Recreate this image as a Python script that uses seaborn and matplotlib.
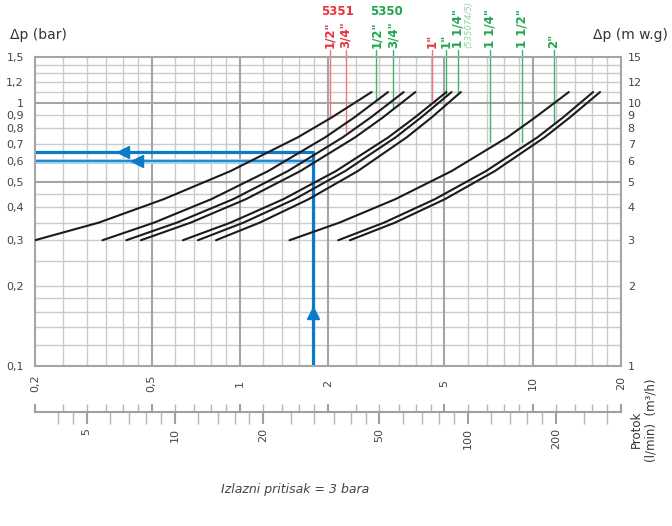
import numpy as np
import pandas as pd
import matplotlib
matplotlib.use("Agg")
import matplotlib.pyplot as plt
import seaborn as sns
from matplotlib.ticker import FixedLocator, NullFormatter, NullLocator

dp_levels = [0.3, 0.35, 0.43, 0.55, 0.74, 0.88, 1.1]

# flow (m3/h) of each curve at those levels, left to right
q_c1 = [0.2, 0.33, 0.55, 0.93, 1.58, 2.06, 2.82]
q_c2 = [0.34, 0.51, 0.80, 1.25, 1.96, 2.46, 3.21]
q_c3 = [0.41, 0.61, 0.95, 1.46, 2.25, 2.80, 3.63]
q_c4 = [0.46, 0.68, 1.05, 1.61, 2.48, 3.08, 3.98]
q_c5 = [0.64, 0.93, 1.41, 2.13, 3.22, 3.96, 5.08]
q_c6 = [0.72, 1.03, 1.54, 2.29, 3.41, 4.16, 5.29]
q_c7 = [0.83, 1.17, 1.72, 2.53, 3.72, 4.52, 5.69]
q_c8 = [1.48, 2.19, 3.40, 5.29, 8.21, 10.2, 13.3]
q_c9 = [2.17, 3.11, 4.64, 6.93, 10.4, 12.7, 16.1]
q_c10 = [2.38, 3.39, 5.02, 7.43, 11.0, 13.4, 17.0]
curves = [q_c1, q_c2, q_c3, q_c4, q_c5, q_c6, q_c7, q_c8, q_c9, q_c10]

# size markers (vertical coloured lines)
size_names = ['1/2"', '3/4"', '1/2"', '3/4"', '1"', '1"', '1 1/4"', '1 1/4"', '1 1/2"', '2"']
size_series = ['5351', '5351', '5350', '5350', '5351', '5350', '5350', '5350', '5350', '5350']
size_flow = [2.03, 2.30, 2.93, 3.34, 4.55, 5.08, 5.57, 7.18, 9.17, 11.8]
size_dp_end = [0.885, 0.776, 1.03, 0.953, 1.03, 1.07, 1.1, 0.711, 0.71, 0.84]

# example reading (blue)
q_sel = 1.78
dp_sel = 0.65
dp_sel2 = 0.6

# ticks / grid
y_ticks = [0.1, 0.2, 0.3, 0.4, 0.5, 0.6, 0.7, 0.8, 0.9, 1, 1.2, 1.5]
y_labels = ['0,1', '0,2', '0,3', '0,4', '0,5', '0,6', '0,7', '0,8', '0,9', '1', '1,2', '1,5']
r_ticks = [1, 2, 3, 4, 5, 6, 7, 8, 9, 10, 12, 15]
x_major = [0.2, 0.5, 1, 2, 5, 10, 20]
x_labels = ['0,2', '0,5', '1', '2', '5', '10', '20']
x_minor = [0.25, 0.3, 0.35, 0.4, 0.45, 0.6, 0.7, 0.8, 0.9, 1.2, 1.4, 1.6, 1.8,
           2.5, 3, 3.5, 4, 4.5, 6, 7, 8, 9, 12, 14, 16, 18]
y_major = [0.5, 1]
y_minor = [0.12, 0.14, 0.16, 0.18, 0.2, 0.25, 0.3, 0.35, 0.4, 0.45, 0.6, 0.7,
           0.8, 0.9, 1.1, 1.2, 1.3, 1.4]
lmin_major = [5, 10, 20, 50, 100, 200]
lmin_minor = [4, 4.5, 6, 7, 8, 9, 12, 14, 16, 18, 25, 30, 35, 40, 45, 60, 70, 80, 90,
              120, 140, 160, 180, 250, 300]

RED = '#e5333b'
GREEN = '#1ea64e'
BLUE = '#0a7bc8'

sns.set_theme(style='white')
plt.rcParams['font.family'] = ['DejaVu Sans']

df = pd.concat([pd.DataFrame({'Q': q, 'dp': dp_levels, 'curve': i})
                for i, q in enumerate(curves)])

fig = plt.figure(figsize=(6.72, 5.26), dpi=100)
ax = fig.add_axes([35 / 672, 1 - 365.5 / 526, 585.7 / 672, 308.8 / 526])

ax.set_xscale('log')
ax.set_yscale('log')
ax.set_xlim(0.2, 20)
ax.set_ylim(0.1, 1.5)

for v in x_minor:
    ax.axvline(v, color='#cacaca', lw=1.0, zorder=0.5)
for v in y_minor:
    ax.axhline(v, color='#cacaca', lw=1.0, zorder=0.5)
for v in x_major[1:-1]:
    ax.axvline(v, color='#a5a5a5', lw=1.5, zorder=0.6)
for v in y_major:
    ax.axhline(v, color='#a5a5a5', lw=1.5, zorder=0.6)

# size marker lines and labels
for name, ser, q, dpe in zip(size_names, size_series, size_flow, size_dp_end):
    lc = '#f27474' if ser == '5351' else '#3db56c'
    tc = RED if ser == '5351' else GREEN
    ax.plot([q, q], [dpe, 1.59], color=lc, lw=1.0, clip_on=False, zorder=1.5)
    ax.text(q, 1.027, name, transform=ax.get_xaxis_transform(), rotation=90,
            ha='center', va='bottom', fontsize=8.5, fontweight='bold', color=tc)
ax.text(2.16, 1.145, '5351', transform=ax.get_xaxis_transform(), ha='center',
        va='center', fontsize=8.5, fontweight='bold', color=RED)
ax.text(3.17, 1.145, '5350', transform=ax.get_xaxis_transform(), ha='center',
        va='center', fontsize=8.5, fontweight='bold', color=GREEN)
ax.text(6.06, 1.027, '(535074/5)', transform=ax.get_xaxis_transform(), rotation=90,
        ha='center', va='bottom', fontsize=6, style='italic', color='#8fd3aa')

# blue example reading
ax.plot([0.2, q_sel], [dp_sel2, dp_sel2], color='#a9d2ee', lw=3.6, zorder=2,
        solid_capstyle='butt')
ax.plot([0.2, q_sel], [dp_sel2, dp_sel2], color=BLUE, lw=1.2, zorder=2.1)
ax.plot([0.2, q_sel, q_sel], [dp_sel, dp_sel, 0.1], color=BLUE, lw=2.3, zorder=2.2)
ax.plot([0.4], [dp_sel], marker='<', ms=9, color=BLUE, mec=BLUE, zorder=2.3)
ax.plot([0.445], [dp_sel2], marker='<', ms=9, color=BLUE, mec=BLUE, zorder=2.3)
ax.plot([q_sel], [0.158], marker='^', ms=9, color=BLUE, mec=BLUE, zorder=2.3)

# pressure drop curves
sns.lineplot(data=df, x='Q', y='dp', units='curve', estimator=None, sort=False,
             color='#1b1b1b', lw=1.5, ax=ax, zorder=3)
ax.set_xlabel('')
ax.set_ylabel('')

ax.set_xticks([])
ax.xaxis.set_minor_locator(NullLocator())
ax.set_yticks(y_ticks, labels=y_labels)
ax.yaxis.set_minor_locator(NullLocator())
ax.tick_params(axis='y', length=0, pad=8, labelsize=8, labelcolor='#444444')
for sp in ax.spines.values():
    sp.set_color('#a5a5a5')
    sp.set_linewidth(1.5)

for q, lab in zip(x_major, x_labels):
    ax.text(q, -0.057, lab, transform=ax.get_xaxis_transform(), rotation=90,
            ha='center', va='center', fontsize=8, color='#444444')

axr = ax.twinx()
axr.set_yscale('log')
axr.set_ylim(1, 15)
axr.set_yticks(r_ticks, labels=[str(t) for t in r_ticks])
axr.yaxis.set_minor_locator(NullLocator())
axr.yaxis.set_minor_formatter(NullFormatter())
axr.tick_params(axis='y', length=0, pad=5, labelsize=8, labelcolor='#444444')
for sp in axr.spines.values():
    sp.set_visible(False)

# flow scale below the chart
axs = fig.add_axes([35 / 672, 1 - 411.7 / 526, 585.7 / 672, 0.001])
axs.set_xscale('log')
axs.set_xlim(0.2, 20)
axs.set_yticks([])
for k in ['top', 'left', 'right']:
    axs.spines[k].set_visible(False)
axs.spines['bottom'].set_color('#a0a0a0')
axs.spines['bottom'].set_linewidth(1.5)
axs.xaxis.set_major_locator(FixedLocator(x_major))
axs.xaxis.set_minor_locator(FixedLocator(x_minor))
axs.xaxis.set_major_formatter(NullFormatter())
axs.xaxis.set_minor_formatter(NullFormatter())
axs.tick_params(axis='x', which='both', bottom=True, top=False)
axs.tick_params(axis='x', which='major', direction='in', length=6, width=1.5,
                color='#a0a0a0')
axs.tick_params(axis='x', which='minor', direction='in', length=6, width=1.0,
                color='#b5b5b5')


def m3h_to_lmin(q):
    return q * 1000.0 / 60.0


def lmin_to_m3h(l):
    return l * 60.0 / 1000.0


sec = axs.secondary_xaxis('bottom', functions=(m3h_to_lmin, lmin_to_m3h))
sec.set_ticks(lmin_major, labels=[str(v) for v in lmin_major])
sec.xaxis.set_minor_locator(FixedLocator(lmin_minor))
sec.xaxis.set_minor_formatter(NullFormatter())
sec.tick_params(axis='x', which='both', bottom=True)
sec.tick_params(axis='x', which='major', direction='out', length=8.5, width=1.5,
                color='#a0a0a0', labelrotation=90, labelsize=8,
                labelcolor='#444444', pad=3)
sec.tick_params(axis='x', which='minor', direction='out', length=8.5, width=1.0,
                color='#b5b5b5')
sec.spines['bottom'].set_visible(False)

# texts
fig.text(10 / 672, 1 - 35 / 526, 'Δp (bar)', ha='left', va='center', fontsize=10,
         color='#333333')
fig.text(668 / 672, 1 - 35 / 526, 'Δp (m w.g)', ha='right', va='center',
         fontsize=10, color='#333333')
fig.text(636 / 672, 1 - 429 / 526, 'Protok', rotation=90, ha='center', va='center',
         fontsize=8.5, color='#333333')
fig.text(651 / 672, 1 - 420 / 526, '(l/min)  (m³/h)', rotation=90, ha='center',
         va='center', fontsize=8.5, color='#333333')
fig.text(295 / 672, 1 - 489 / 526, 'Izlazni pritisak = 3 bara', ha='center',
         va='center', fontsize=9, style='italic', color='#444444')

fig.savefig('out.png', dpi=100)
